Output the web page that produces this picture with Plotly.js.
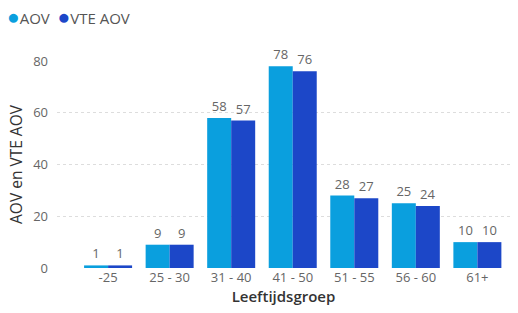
<!DOCTYPE html>
<html><head><meta charset="utf-8">
<script src="https://cdn.plot.ly/plotly-3.0.1.min.js"></script>
<style>html,body{margin:0;padding:0;background:#fff}#c{width:518px;height:313px}</style>
</head><body><div id="c"></div>
<script>
const categories = ["-25","25 - 30","31 - 40","41 - 50","51 - 55","56 - 60","61+"];
const aov = [1, 9, 58, 78, 28, 25, 10];
const vteAov = [1, 9, 57, 76, 27, 24, 10];
const yTicks = [0, 20, 40, 60, 80];
const seriesNames = ['AOV', 'VTE AOV'];
const colors = ['#0A9FDE', '#1C47C8'];

const font = "'Open Sans', 'Noto Sans', sans-serif";
function bar(name, vals, color){
  return {type:'bar', name:name, x:categories, y:vals, marker:{color:color},
    text:vals.map(String), textposition:'outside', cliponaxis:false, showlegend:false,
    textfont:{family:font, size:13, color:'#666'}, hoverinfo:'none'};
}
const data = [bar(seriesNames[0], aov, colors[0]), bar(seriesNames[1], vteAov, colors[1])];
const legendText = seriesNames.map((n,i)=>'<span style="color:'+colors[i]+';font-size:21px">●</span>'+n).join('\u00a0\u00a0');
const layout = {
  width:518, height:313,
  margin:{l:57, r:8, t:61, b:45},
  paper_bgcolor:'#fff', plot_bgcolor:'#fff',
  font:{family:font, color:'#666'},
  barmode:'group', bargap:0.22, bargroupgap:0,
  annotations:[{xref:'paper', yref:'paper', x:-0.114, y:1.215, xanchor:'left', yanchor:'middle',
    showarrow:false, text:legendText, font:{family:font, size:15, color:'#555'}}],
  xaxis:{type:'category', range:[-0.83, 6.53], showgrid:false, zeroline:false, showline:false,
    ticks:'', tickfont:{family:font, size:13, color:'#666'},
    title:{text:'Leeftijdsgroep', font:{family:font, size:15, color:'#333', weight:600}, standoff:5}},
  yaxis:{range:[0,80], tickvals:yTicks, showgrid:true, gridcolor:'#ddd', griddash:'dot', gridwidth:1,
    zeroline:false, showline:false, ticks:'', ticklabelstandoff:8,
    tickfont:{family:font, size:13, color:'#666'},
    title:{text:'AOV en VTE AOV', font:{family:font, size:15.5, color:'#333', weight:400}, standoff:6}}
};
Plotly.newPlot('c', data, layout, {staticPlot:true});
</script></body></html>
